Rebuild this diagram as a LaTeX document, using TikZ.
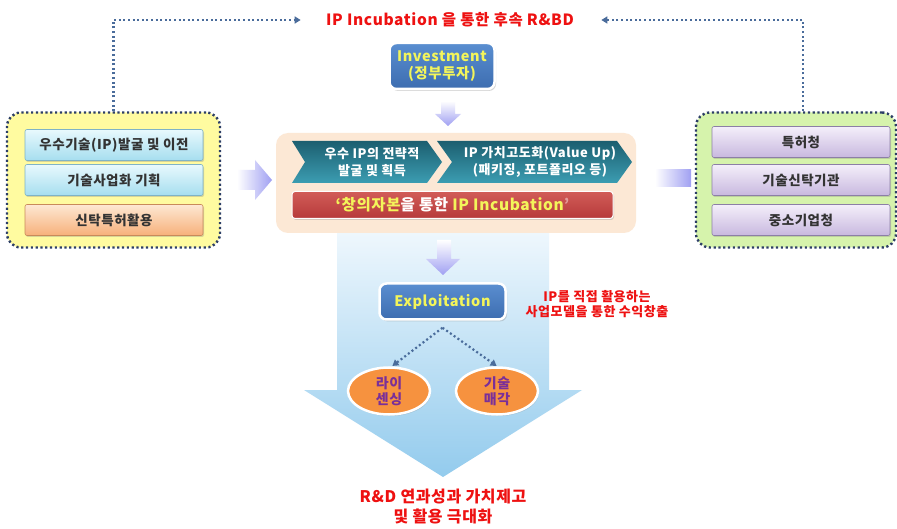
\documentclass[tikz,border=0pt]{standalone}
\usepackage{fontspec}
\setmainfont[LetterSpace=4]{Noto Sans CJK KR}
\usetikzlibrary{arrows.meta,shapes.geometric,shadows}
\definecolor{dotblue}{HTML}{4A6C9B}
\definecolor{grpborder}{HTML}{2C3E66}
\definecolor{ylwfill}{HTML}{FFFBA0}
\definecolor{grnfill}{HTML}{D6F3AC}
\definecolor{cyantop}{HTML}{E8F9FD}
\definecolor{cyanbot}{HTML}{A6DEEF}
\definecolor{cyanline}{HTML}{7FB3C6}
\definecolor{orgtop}{HTML}{FDE8D3}
\definecolor{orgbot}{HTML}{F7B07A}
\definecolor{orgline}{HTML}{C98A5A}
\definecolor{purtop}{HTML}{F4EFFA}
\definecolor{purbot}{HTML}{C8B8DF}
\definecolor{purline}{HTML}{8C7FA6}
\definecolor{peach}{HTML}{FCE8D5}
\definecolor{tealtop}{HTML}{1C5F70}
\definecolor{tealbot}{HTML}{3C9DB2}
\definecolor{redtop}{HTML}{D25C58}
\definecolor{redbot}{HTML}{B63A3A}
\definecolor{bluetop}{HTML}{5A8ED0}
\definecolor{bluebot}{HTML}{3D6DB0}
\definecolor{txtyellow}{HTML}{F3F55A}
\definecolor{arrtop}{HTML}{EEF7FD}
\definecolor{arrbot}{HTML}{93CBED}
\definecolor{lavender}{HTML}{A0A0F2}
\definecolor{ovalorg}{HTML}{F6923F}
\definecolor{ovaltxt}{HTML}{7A2F99}
\definecolor{redtxt}{HTML}{EE1111}
\tikzset{
  dotline/.style={draw=dotblue, line width=2.2pt, dash pattern=on 2pt off 2.6pt, line cap=butt,
    -{Triangle[length=6pt,width=7pt]}},
  grpbox/.style={draw=grpborder, line width=2.4pt, dash pattern=on 2.2pt off 2.6pt, line cap=butt,
    rounded corners=14pt, minimum width=213pt, minimum height=135pt},
  innerbox/.style={rounded corners=2pt, line width=0.6pt, minimum width=178pt, minimum height=31pt,
    font=\bfseries\fontsize{13.5}{15}\selectfont, text=black!80,
    drop shadow={shadow xshift=1pt, shadow yshift=-1.5pt, opacity=0.3}},
  cyanbox/.style={innerbox, draw=cyanline, top color=cyantop, bottom color=cyanbot},
  orgbox/.style={innerbox, draw=orgline, top color=orgtop, bottom color=orgbot},
  purbox/.style={innerbox, draw=purline, top color=purtop, bottom color=purbot},
  bluebox/.style={draw=white, line width=2.5pt, rounded corners=7pt, top color=bluetop, bottom color=bluebot,
    text=txtyellow, font=\bfseries\fontsize{14.5}{17}\selectfont, align=center,
    drop shadow={shadow xshift=1.5pt, shadow yshift=-2pt, opacity=0.3}},
  ovalnode/.style={ellipse, draw=white, line width=2.5pt, fill=ovalorg, minimum width=82pt, minimum height=47pt,
    inner sep=0pt, text=ovaltxt, font=\bfseries\fontsize{14}{16}\selectfont, align=center,
    drop shadow={shadow xshift=1pt, shadow yshift=-1.5pt, opacity=0.3}},
  chevtext/.style={text=white, font=\bfseries\fontsize{13}{16.5}\selectfont, align=center},
  redlabel/.style={text=redtxt, font=\bfseries, align=center},
  lavarrow/.style={top color=white, bottom color=lavender, draw=none},
}
\begin{document}
\begin{tikzpicture}[x=1pt,y=-1pt]
\useasboundingbox (0,0) rectangle (897,529);
\fill[white] (0,0) rectangle (897,529);

% big down arrow
\path[top color=arrtop, bottom color=arrbot, draw=none]
  (337,233) -- (549,233) -- (549,390) -- (582,390) -- (443,477) -- (304,390) -- (337,390) -- cycle;

% title
\node[redlabel, font=\bfseries\fontsize{15.5}{17}\selectfont] (title) at (450,20) {IP Incubation 을 통한 후속 R\&BD};

% groups
\node[grpbox, fill=ylwfill] (lg) at (113.5,180) {};
\node[grpbox, fill=grnfill, minimum width=200pt] (rg) at (796,180) {};

\node[cyanbox] (l1) at (114,145) {우수기술(IP)발굴 및 이전};
\node[cyanbox] (l2) at (114,180) {기술사업화 기획};
\node[orgbox] (l3) at (114,220) {신탁특허활용};

\node[purbox] (r1) at (801,142) {특허청};
\node[purbox] (r2) at (801,180) {기술신탁기관};
\node[purbox] (r3) at (801,220) {중소기업청};

% dotted feedback lines
\draw[dotline] (lg.north) |- ([xshift=-22pt]title.west);
\draw[dotline] ([xshift=7pt]rg.north) |- ([xshift=24pt]title.east);

% investment
\node[bluebox, minimum width=105pt, minimum height=46pt] (inv) at (442,66) {Investment\\(정부투자)};

% central panel
\node[draw=none, fill=peach, rounded corners=12pt, minimum width=360pt, minimum height=100pt] (panel) at (456,183) {};
\path[top color=tealtop, bottom color=tealbot] (292,141) -- (427,141) -- (442,162) -- (427,183) -- (292,183) -- (305,162) -- cycle;
\path[top color=tealtop, bottom color=tealbot] (437,141) -- (617,141) -- (632,162) -- (617,183) -- (437,183) -- (452,162) -- cycle;
\node[chevtext] (c1) at (372,162) {우수 IP의 전략적\\발굴 및 획득};
\node[chevtext] (c2) at (540,162) {IP 가치고도화(Value Up)\\(패키징, 포트폴리오 등)};
\node[draw=white, line width=1pt, rounded corners=3pt, top color=redtop, bottom color=redbot,
  minimum width=321pt, minimum height=27pt, font=\bfseries\fontsize{15.5}{17}\selectfont,
  drop shadow={shadow xshift=1pt, shadow yshift=-1.5pt, opacity=0.3}] (bar) at (452.5,205)
  {\textcolor{txtyellow}{‘창의자본}\textcolor{white}{을 통한 }\textcolor{txtyellow}{IP Incubation}\textcolor{redtop!60}{’}};

% lavender arrows
\path[lavarrow] (441,101) -- (455,101) -- (455,114) -- (461,114) -- (448,126) -- (435,114) -- (441,114) -- cycle;
\path[lavarrow] (437,240) -- (451,240) -- (451,259) -- (460,259) -- (443,275) -- (426,259) -- (437,259) -- cycle;
\path[left color=white, right color=lavender] (237,170) -- (255,170) -- (255,160) -- (272,180) -- (255,200) -- (255,190) -- (237,190) -- cycle;
\path[left color=white, right color=lavender] (655,170) rectangle (691,187);

% exploitation
\node[bluebox, minimum width=126pt, minimum height=36pt] (exp) at (442.5,301.5) {Exploitation};
\node[redlabel, font=\bfseries\fontsize{13}{15.5}\selectfont] (explab) at (597,304) {IP를 직접 활용하는\\사업모델을 통한 수익창출};

\node[ovalnode] (o1) at (389,391) {라이\\센싱};
\node[ovalnode] (o2) at (497,391) {기술\\매각};
\coordinate (ex) at ([yshift=-7pt]exp.south);
\draw[dotline, shorten >=0.5pt] (ex) -- ([xshift=3pt]o1.north);
\draw[dotline, shorten >=0.5pt] (ex) -- (o2.north);

% bottom text
\node[redlabel, font=\bfseries\fontsize{16}{20}\selectfont] (result) at (443,507) {R\&D 연과성과 가치제고\\및 활용 극대화};
\end{tikzpicture}
\end{document}
